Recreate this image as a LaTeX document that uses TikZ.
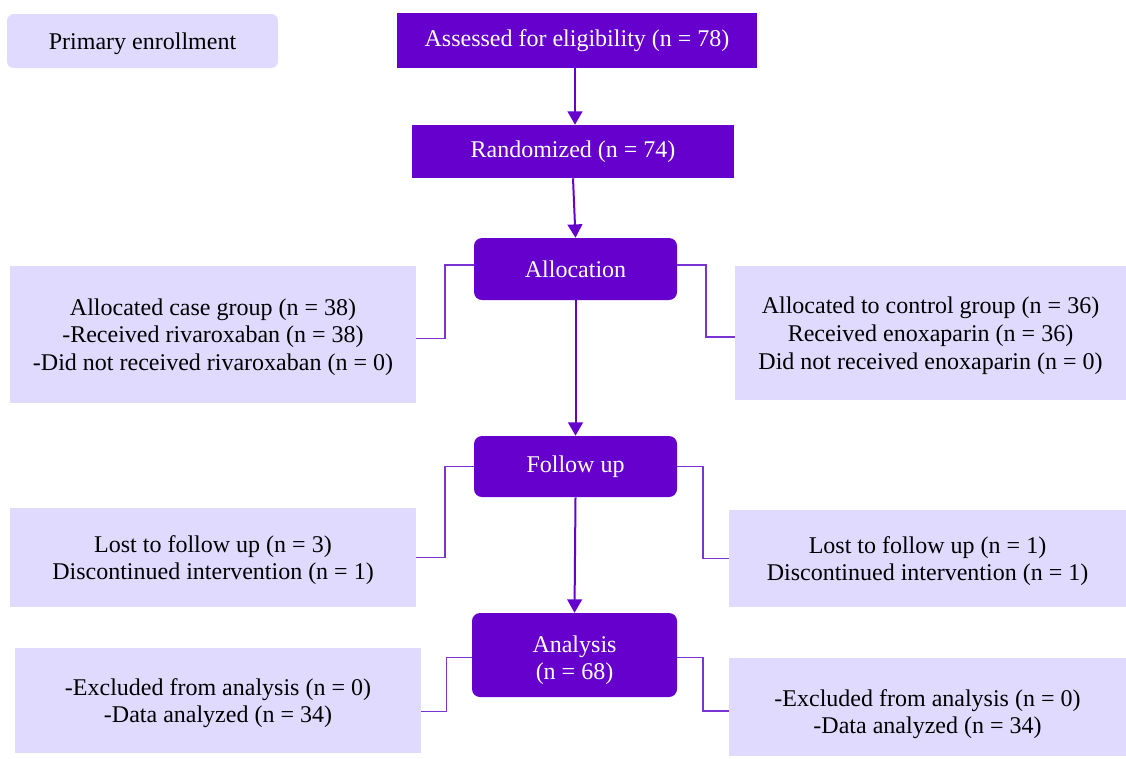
\documentclass[tikz,border=0pt]{standalone}
\usepackage{fontspec}
\setmainfont{Liberation Serif}
\usetikzlibrary{arrows.meta,calc}
\definecolor{dark}{HTML}{6600CC}
\definecolor{light}{HTML}{E1DAFF}
\definecolor{conn}{HTML}{7B33D4}
\begin{document}
\begin{tikzpicture}[x=0.75pt,y=-0.75pt,
  every node/.style={font=\fontsize{18}{20.8}\selectfont, align=center, inner sep=0pt},
  darkbox/.style={fill=dark, text=white},
  lightbox/.style={fill=light, text=black, text depth=0pt},
  flowarrow/.style={draw=dark, line width=1.5pt, -{Triangle[width=11pt,length=10pt]}},
  sideline/.style={draw=conn, line width=1pt}]
\useasboundingbox (0,0) rectangle (1126,758);
\node[lightbox, rounded corners=5pt, minimum width=203.25pt, minimum height=40.5pt] (prim) at (142.5,41) {Primary enrollment};
\node[darkbox, minimum width=270pt, minimum height=41.25pt] (assess) at (577,40.5) {Assessed for eligibility (n = 78)};
\node[darkbox, minimum width=241.5pt, minimum height=39.75pt] (rand) at (573,151.5) {Randomized (n = 74)};
\node[darkbox, rounded corners=6pt, minimum width=152.25pt, minimum height=46.5pt] (alloc) at (575.5,269) {Allocation};
\node[lightbox, minimum width=304.5pt, minimum height=102.75pt] (allocL) at (213,334.5) {Allocated case group (n = 38)\\-Received rivaroxaban (n = 38)\\-Did not received rivaroxaban (n = 0)};
\node[lightbox, minimum width=293.25pt, minimum height=100.5pt] (allocR) at (930.5,333) {Allocated to control group (n = 36)\\Received enoxaparin (n = 36)\\Did not received enoxaparin (n = 0)};
\node[darkbox, rounded corners=6pt, minimum width=152.25pt, minimum height=45.75pt] (follow) at (575.5,466.5) {Follow up};
\node[lightbox, minimum width=304.5pt, minimum height=74.25pt] (followL) at (213,557.5) {Lost to follow up (n = 3)\\Discontinued intervention (n = 1)};
\node[lightbox, minimum width=297.75pt, minimum height=72.75pt] (followR) at (927.5,558.5) {Lost to follow up (n = 1)\\Discontinued intervention (n = 1)};
\node[darkbox, rounded corners=6pt, minimum width=153.75pt, minimum height=63pt, text depth=0pt, text height=37.3pt] (anal) at (574.5,655) {Analysis\\(n = 68)};
\node[lightbox, minimum width=304.5pt, minimum height=78.75pt] (analL) at (218,700.5) {-Excluded from analysis (n = 0)\\-Data analyzed (n = 34)};
\node[lightbox, minimum width=297.75pt, minimum height=73.5pt, text height=40.3pt] (analR) at (927.5,707) {-Excluded from analysis (n = 0)\\-Data analyzed (n = 34)};
\draw[flowarrow] ([xshift=-1.5pt]assess.south) -- ([xshift=-1.5pt]assess.south |- rand.north);
\draw[flowarrow] (rand.south) -- (alloc.north);
\draw[flowarrow] (alloc.south) -- (alloc.south |- follow.north);
\draw[flowarrow] (follow.south) -- (anal.north);
\draw[sideline] ([yshift=3pt]alloc.west) -| ($(alloc.west)!.5!(allocL.east)$) |- ([yshift=-3pt]allocL.east);
\draw[sideline] ([yshift=3pt]alloc.east) -| ($(alloc.east)!.5!(allocR.west)$) |- ([yshift=-3pt]allocR.west);
\draw[sideline] (follow.west) -| ($(follow.west)!.5!(followL.east)$) |- (followL.east);
\draw[sideline] (follow.east) -| ($(follow.east)!.5!(followR.west)$) |- (followR.west);
\draw[sideline] ([yshift=-2pt]anal.west) -| ($(anal.west)!.5!(analL.east)$) |- ([yshift=-8pt]analL.east);
\draw[sideline] ([yshift=-2pt]anal.east) -| ($(anal.east)!.5!(analR.west)$) |- ([yshift=-3pt]analR.west);
\end{tikzpicture}
\end{document}
